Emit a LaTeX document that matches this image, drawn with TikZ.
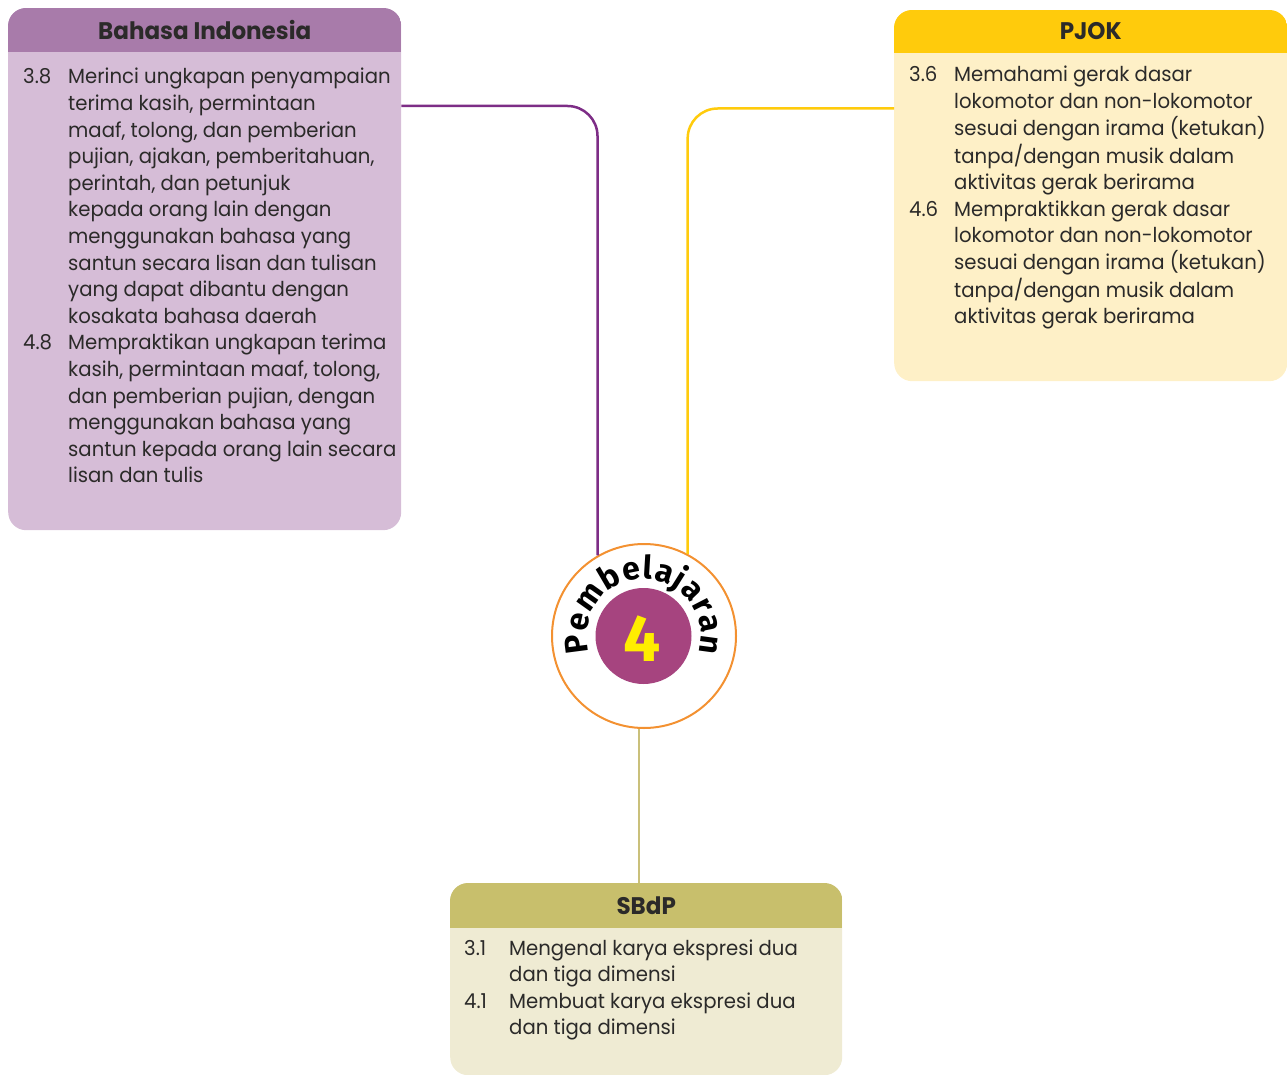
\documentclass[tikz,border=0pt]{standalone}
\usepackage{fontspec}
\setmainfont{Poppins}[FakeStretch=0.96]
\newfontfamily\circfont{Fira Sans}
\usetikzlibrary{decorations.text}
\definecolor{txt}{HTML}{2B2A29}
\definecolor{bihead}{HTML}{A87BAA}
\definecolor{bibody}{HTML}{D6BDD7}
\definecolor{pjhead}{HTML}{FFCB0C}
\definecolor{pjbody}{HTML}{FEF0C7}
\definecolor{sbhead}{HTML}{C8BF6C}
\definecolor{sbbody}{HTML}{EFEBD3}
\definecolor{pline}{HTML}{7D2D86}
\definecolor{yline}{HTML}{FFCB0C}
\definecolor{kline}{HTML}{CAC07B}
\definecolor{ringc}{HTML}{F39131}
\definecolor{innerc}{HTML}{A6447F}
\definecolor{fourc}{HTML}{FFED00}
\begin{document}
\begin{tikzpicture}[x=1pt,y=-1pt,
  boxnode/.style={rectangle, rounded corners=18pt, inner sep=0pt, anchor=north west, minimum width=393pt},
  titlenode/.style={font=\bfseries\fontsize{24}{28}\selectfont, text=txt, inner sep=0pt},
  bodynode/.style={font=\fontsize{20.5}{26.6}\selectfont, text=txt, inner sep=0pt, anchor=base west},
  conn/.style={line width=2.5pt, rounded corners=30pt}]
\useasboundingbox (0,0) rectangle (1287,1075);

% ring and centre
\node[circle, draw=ringc, line width=2pt, fill=white, minimum size=184pt, inner sep=0pt] (ring) at (644,636) {};
\node[circle, fill=innerc, minimum size=96pt, inner sep=0pt] (inner) at (643.5,636) {};
\node[text=fourc, font=\circfont\bfseries\fontsize{66}{66}\selectfont, inner sep=0pt] (four) at (642,639) {4};
\path[decorate, decoration={text along path, text align={fit to path},
   text={|\circfont\bfseries\fontsize{32}{32}\selectfont\color{black}|Pembelajaran}}]
   (ring.center) ++(163:57) arc[start angle=163, end angle=377, radius=57];

% boxes
\node[boxnode, fill=bibody, minimum height=522pt] (bi) at (8,8) {};
\begin{scope}
  \clip[rounded corners=18pt] (bi.north west) rectangle (bi.south east);
  \fill[bihead] (bi.north west) rectangle ([yshift=-44pt]bi.north east);
\end{scope}
\node[titlenode] (bi-t) at ([yshift=-22pt]bi.north) {Bahasa Indonesia};
\node[bodynode] (bi-b) at (23,84) {\begin{tabular}[t]{@{}p{45pt}@{}l@{}}
3.8 & Merinci ungkapan penyampaian\\
 & terima kasih, permintaan\\
 & maaf, tolong, dan pemberian\\
 & pujian, ajakan, pemberitahuan,\\
 & perintah, dan petunjuk\\
 & kepada orang lain dengan\\
 & menggunakan bahasa yang\\
 & santun secara lisan dan tulisan\\
 & yang dapat dibantu dengan\\
 & kosakata bahasa daerah\\
4.8 & Mempraktikan ungkapan terima\\
 & kasih, permintaan maaf, tolong,\\
 & dan pemberian pujian, dengan\\
 & menggunakan bahasa yang\\
 & santun kepada orang lain secara\\
 & lisan dan tulis
\end{tabular}};

\node[boxnode, fill=pjbody, minimum height=371pt] (pj) at (894,10) {};
\begin{scope}
  \clip[rounded corners=18pt] (pj.north west) rectangle (pj.south east);
  \fill[pjhead] (pj.north west) rectangle ([yshift=-43pt]pj.north east);
\end{scope}
\node[titlenode] (pj-t) at ([yshift=-21.5pt]pj.north) {PJOK};
\node[bodynode] (pj-b) at (909,82) {\begin{tabular}[t]{@{}p{45pt}@{}l@{}}
3.6 & Memahami gerak dasar\\
 & lokomotor dan non-lokomotor\\
 & sesuai dengan irama (ketukan)\\
 & tanpa/dengan musik dalam\\
 & aktivitas gerak berirama\\
4.6 & Mempraktikkan gerak dasar\\
 & lokomotor dan non-lokomotor\\
 & sesuai dengan irama (ketukan)\\
 & tanpa/dengan musik dalam\\
 & aktivitas gerak berirama
\end{tabular}};

\node[boxnode, fill=sbbody, minimum width=392pt, minimum height=192pt] (sb) at (450,883) {};
\begin{scope}
  \clip[rounded corners=18pt] (sb.north west) rectangle (sb.south east);
  \fill[sbhead] (sb.north west) rectangle ([yshift=-45pt]sb.north east);
\end{scope}
\node[titlenode] (sb-t) at ([yshift=-22.5pt]sb.north) {SBdP};
\node[bodynode] (sb-b) at (464,955) {\begin{tabular}[t]{@{}p{45pt}@{}l@{}}
3.1 & Mengenal karya ekspresi dua\\
 & dan tiga dimensi\\
4.1 & Membuat karya ekspresi dua\\
 & dan tiga dimensi
\end{tabular}};

% connectors
\draw[conn, pline] (bi.east |- 0,106) -| (ring.120);
\draw[conn, yline] (pj.west |- 0,108.5) -| (ring.62);
\draw[line width=2.5pt, kline] (ring.267.5) -- (ring.267.5 |- sb.north);
\end{tikzpicture}
\end{document}
